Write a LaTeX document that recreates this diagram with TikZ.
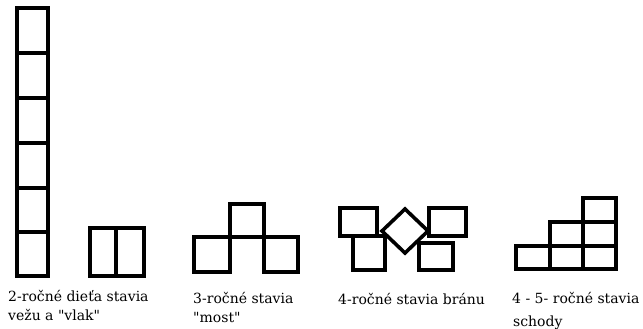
\documentclass[tikz,border=0pt]{standalone}
\usepackage{fontspec}
\setmainfont{DejaVu Serif}
\newcommand{\qq}{\XeTeXglyph\XeTeXglyphindex "quotedbl" }
\begin{document}
\begin{tikzpicture}[x=1pt,y=-1pt,
  blok/.style={draw=black,line width=3.6pt,line join=miter},
  popis/.style={anchor=base west,inner sep=0pt,font=\fontsize{14}{17}\selectfont}]
\useasboundingbox (0,0) rectangle (643,329);
% tower
\foreach \a/\b in {8/53,53/98,98/143,143/188,188/232,232/276}
  \draw[blok] (17,\a) rectangle (48,\b);
% train
\draw[blok] (90,228) rectangle (116,276);
\draw[blok] (116,228) rectangle (144,276);
% bridge
\draw[blok] (194,237) rectangle (230,272);
\draw[blok] (230,204) rectangle (264,237);
\draw[blok] (264,237) rectangle (298,272);
% gate
\draw[blok] (340,208) rectangle (377,236);
\draw[blok] (353,236) rectangle (385,270);
\draw[blok] (429,208) rectangle (466,236);
\draw[blok] (419,243) rectangle (453,270);
\draw[blok] (382,231) -- (405,209) -- (428,231) -- (405,253) -- cycle;
% stairs
\draw[blok] (516,246) rectangle (550,269);
\draw[blok] (550,246) rectangle (583,269);
\draw[blok] (583,246) rectangle (616,269);
\draw[blok] (550,222) rectangle (583,246);
\draw[blok] (583,222) rectangle (616,246);
\draw[blok] (583,198) rectangle (616,222);
% labels
\node[popis] (t1a) at (8,301) {2-ročné dieťa stavia};
\node[popis] (t1b) at (8,320) {vežu a \qq vlak\qq};
\node[popis] (t2a) at (193,303) {3-ročné stavia};
\node[popis] (t2b) at (193,322) {\qq most\qq};
\node[popis] (t3) at (338,304) {4-ročné stavia bránu};
\node[popis] (t4a) at (512,303) {4 - 5- ročné stavia};
\node[popis] (t4b) at (513,326) {schody};
\end{tikzpicture}
\end{document}
